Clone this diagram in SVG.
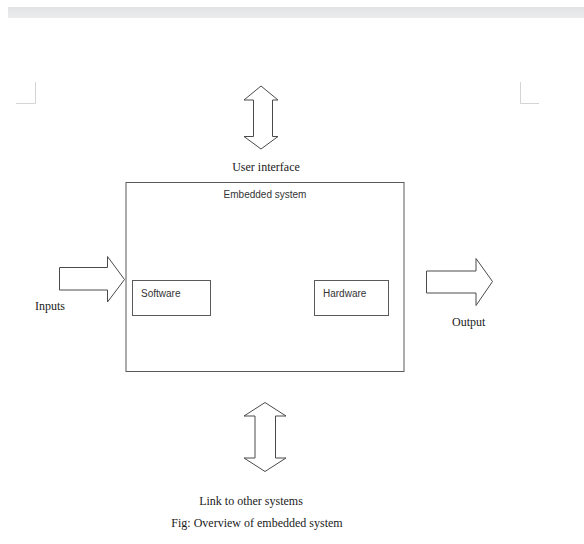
<svg xmlns="http://www.w3.org/2000/svg" width="584" height="544" viewBox="0 0 584 544">
<defs>
<linearGradient id="bar" x1="0" y1="0" x2="0" y2="1">
<stop offset="0" stop-color="#e2e3e5"/>
<stop offset="1" stop-color="#ececed"/>
</linearGradient>
</defs>
<style>
.box{fill:#fff;stroke:#5a5a5a;stroke-width:1}
.arr{fill:#fff;stroke:#4a4a4a;stroke-width:1;stroke-linejoin:miter}
.sans{font-family:"Liberation Sans",Arial,sans-serif;font-size:10px;fill:#333}
.serif{font-family:"Liberation Serif","Times New Roman",serif;font-size:12px;fill:#1a1a1a}
.mark{fill:none;stroke:#d4d4d4;stroke-width:1}
</style>
<rect x="0" y="0" width="584" height="544" fill="#fff"/>
<rect x="8" y="7" width="576" height="11" fill="url(#bar)"/>
<path class="mark" d="M35.5 82 V103.5 H16"/>
<path class="mark" d="M520.5 82 V103.5 H539"/>
<g id="embedded-system">
<rect class="box" x="126" y="182.5" width="278" height="189"/>
<text class="sans" x="265" y="198" text-anchor="middle">Embedded system</text>
</g>
<g id="software">
<rect class="box" x="132.5" y="280.5" width="78" height="35"/>
<text class="sans" x="141" y="297">Software</text>
</g>
<g id="hardware">
<rect class="box" x="314.5" y="280.5" width="74" height="35"/>
<text class="sans" x="323" y="297">Hardware</text>
</g>
<g id="connectors">
<g id="user-interface-arrow">
<polygon class="arr" points="261,86 278,100 272.5,100 272.5,136.5 278,136.5 261,149 244,136.5 253.5,136.5 253.5,100 244,100"/>
</g>
<g id="link-arrow">
<polygon class="arr" points="265,402.5 286,416 275.5,416 275.5,458 286,458 265,471.5 244,458 255,458 255,416 244,416"/>
</g>
<g id="inputs-arrow">
<polygon class="arr" points="59.5,267.5 107.5,267.5 107.5,256.5 124.5,279.5 107.5,302 107.5,290 59.5,290"/>
</g>
<g id="output-arrow">
<polygon class="arr" points="426.5,271 476,271 476,258.5 492.5,281.5 476,305.5 476,293 426.5,293"/>
</g>
</g>
<g id="labels">
<text class="serif" x="266" y="170.5" text-anchor="middle">User interface</text>
<text class="serif" x="35" y="310">Inputs</text>
<text class="serif" x="452" y="326">Output</text>
<text class="serif" x="251" y="505" text-anchor="middle">Link to other systems</text>
<text class="serif" x="257" y="527" text-anchor="middle">Fig: Overview of embedded system</text>
</g>
</svg>
